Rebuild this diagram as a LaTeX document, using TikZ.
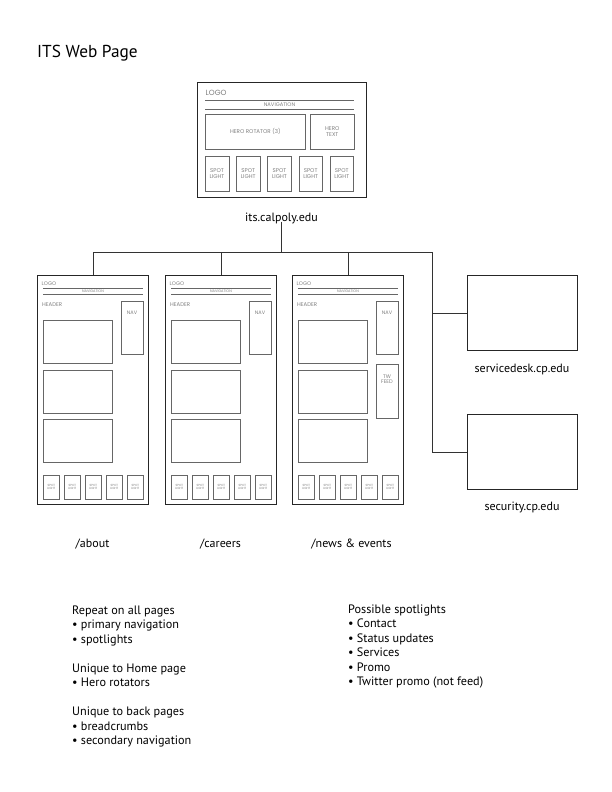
\documentclass[tikz,border=0pt]{standalone}
\usepackage{fontspec}
\setmainfont{PT Sans}
\newfontfamily\wf{Poppins}
\newcommand\fsz[1]{\fontsize{#1}{#1}\selectfont}
\newcommand\wfz[1]{\wf\fontsize{#1}{#1}\selectfont}
\tikzset{
  pagebox/.style={draw=black!85, line width=0.9pt, inner sep=0pt, fill=white},
  wbox/.style={draw=black!60, line width=0.6pt, inner sep=0pt, text=black!50, align=center},
  wtext/.style={text=black!50, inner sep=0pt},
  innerline/.style={draw=black!60, line width=0.6pt},
  conn/.style={draw=black!80, line width=0.9pt},
  lbl/.style={inner sep=0pt, font=\fsz{12}, anchor=base},
  lst/.style={inner sep=0pt, font=\fsz{12.2}, anchor=base west},
}
\newcommand\wfpage[3]{%
\begin{scope}[shift={(#2,275)}]
\node[pagebox, minimum width=111, minimum height=229, anchor=north west] (#1) at (0,0) {};
\node[wtext, font=\wfz{5.2}, anchor=west] (#1logo) at (4.5,9) {LOGO};
\draw[innerline] (6,13) -- (106,13) (6,19) -- (106,19);
\node[wtext, font=\wfz{3.6}] (#1navt) at (56,16) {NAVIGATION};
\node[wtext, font=\wfz{5.4}, anchor=west] (#1head) at (5,29.5) {HEADER};
\node[wbox, minimum width=22, minimum height=53, anchor=north west] (#1nav) at (84,26) {};
\node[wtext, font=\wfz{5}] (#1navl) at (95,38) {NAV};
\foreach \yy [count=\k] in {45,95,144}
  \node[wbox, minimum width=69, minimum height=43, anchor=north west] (#1c\k) at (6,\yy) {};
\foreach \i in {0,...,4}
  \node[wbox, minimum width=16, minimum height=24, anchor=north west, font=\wfz{3}] (#1s\i) at (6+\i*21,200) {SPOT\\LIGHT};
#3
\end{scope}}
\begin{document}
\begin{tikzpicture}[x=1pt, y=-1pt]
\useasboundingbox (0,0) rectangle (612,792);
\node[anchor=base west, inner sep=0pt, font=\fsz{17.3}] (title) at (37,57) {ITS Web Page};

% home page
\begin{scope}[shift={(197,82)}]
\node[pagebox, minimum width=169, minimum height=115, anchor=north west] (home) at (0,0) {};
\node[wtext, font=\wfz{7.5}, anchor=west] (hlogo) at (8.5,11) {LOGO};
\draw[innerline] (8,18) -- (157,18) (8,27) -- (157,27);
\node[wtext, font=\wfz{5.2}] (hnav) at (82.5,22.5) {NAVIGATION};
\node[wbox, minimum width=100, minimum height=35, anchor=north west, font=\wfz{5.5}] (hrot) at (8,32) {HERO ROTATOR (3)};
\node[wbox, minimum width=44, minimum height=35, anchor=north west, font=\wfz{5.5}] (htxt) at (113,32) {HERO\\TEXT};
\foreach \i in {0,...,4}
  \node[wbox, minimum width=23.5, minimum height=35, anchor=north west, font=\wfz{5.5}] (hs\i) at (8+\i*31.2,74) {SPOT\\LIGHT};
\end{scope}
\node[lbl] (its) at (281.5,221) {its.calpoly.edu};

% back pages
\wfpage{about}{37}{}
\wfpage{careers}{165}{}
\wfpage{news}{292}{\node[wbox, minimum width=22, minimum height=54, anchor=north west] (newstw) at (84,89) {};
\node[wtext, font=\wfz{5.2}, align=center] (newstwl) at (95,104) {TW\\FEED};}

\node[lbl] (aboutl) at (92.5,547) {/about};
\node[lbl] (careersl) at (220.5,547) {/careers};
\node[lbl] (newsl) at (351.5,547) {/news \& events};

% right boxes
\node[pagebox, minimum width=110, minimum height=75, anchor=north west] (sd) at (467,275) {};
\node[pagebox, minimum width=110, minimum height=75, anchor=north west] (sec) at (467,414) {};
\node[lbl] (sdl) at (522,372) {servicedesk.cp.edu};
\node[lbl] (secl) at (522,510) {security.cp.edu};

% connectors
\coordinate (hub) at (281.5,252);
\coordinate (hubR) at (432,252);
\draw[conn] (its.south) ++(0,-2) -- (hub);
\draw[conn] (about.north |- hub) -- (hubR);
\draw[conn] (about.north |- hub) -- (about.north);
\draw[conn] (careers.north |- hub) -- (careers.north);
\draw[conn] (news.north |- hub) -- (news.north);
\draw[conn] (hubR) -- (hubR |- sec.west) -- (sec.west);
\draw[conn] (hubR |- sd.west) -- (sd.west);

% lists
\foreach \yy/\t [count=\k] in {614/Repeat on all pages, 628.5/• primary navigation, 643/• spotlights,
  672/Unique to Home page, 686.5/• Hero rotators,
  715.5/Unique to back pages, 730/• breadcrumbs, 744.5/• secondary navigation}
  \node[lst] (la\k) at (72,\yy) {\t};
\foreach \yy/\t [count=\k] in {613/Possible spotlights, 627.5/• Contact, 642/• Status updates,
  656.5/• Services, 671/• Promo, 685.5/• Twitter promo (not feed)}
  \node[lst] (lb\k) at (348,\yy) {\t};
\end{tikzpicture}
\end{document}
